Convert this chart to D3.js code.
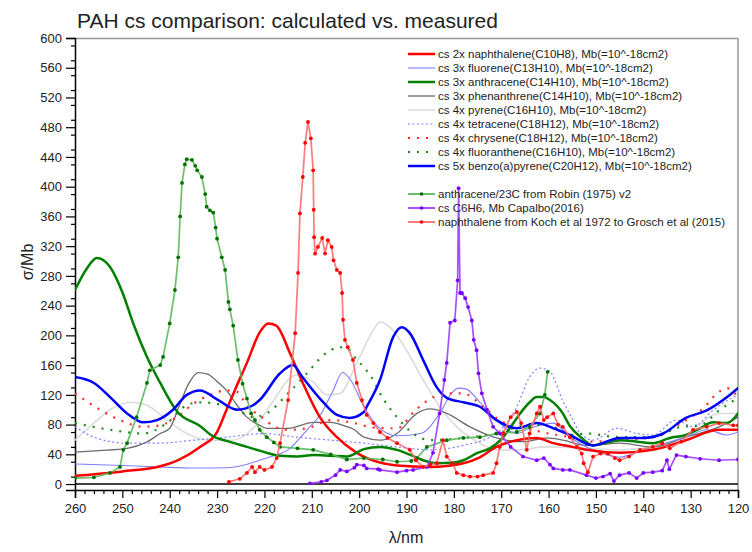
<!DOCTYPE html>
<html>
<head>
<meta charset="utf-8">
<script src="https://cdn.jsdelivr.net/npm/d3@7"></script>
<style>
  html, body { margin: 0; padding: 0; background: #fff; }
  svg { display: block; font-family: "Liberation Sans", Arial, sans-serif; }
</style>
</head>
<body>
<svg id="chart" width="752" height="552"></svg>
<script>
// ---------------- DATA ----------------
const xTicks = [260, 250, 240, 230, 220, 210, 200, 190, 180, 170, 160, 150, 140, 130, 120];
const yTicks = [0, 40, 80, 120, 160, 200, 240, 280, 320, 360, 400, 440, 480, 520, 560, 600];

const naphCalcWl = [260, 250, 242, 238, 233.6, 230, 228, 226, 223.7, 221, 219.2, 217.5, 214.6, 211.9, 208.3, 204.7, 200.5, 196.2, 192, 185, 178, 174.5, 171, 166.7, 162.5, 159, 155, 152, 145, 138, 131, 124, 120];
const naphCalcCs = [11, 17, 24, 33, 50, 70, 100, 130, 163, 204, 216, 213, 176, 136, 90, 63, 42, 30, 25, 23, 28, 36, 50, 59, 62, 55, 50, 46, 42, 46, 59, 73, 73];

const fluoreneWl = [260, 250, 242, 235, 228, 224, 221, 218, 215, 211, 208, 205.5, 203.5, 202, 199, 196, 192, 187, 183, 180.5, 179, 177.5, 174.5, 171, 166.7, 164, 161, 159, 155.5, 152, 148, 145, 143, 138, 131, 126.6, 122.3, 120];
const fluoreneCs = [27, 25, 23, 21.5, 22, 26, 32, 38, 46, 73, 95, 126, 150, 142, 104, 77, 65, 68, 95, 122, 129, 128, 110, 86, 68, 75, 80, 82, 63, 50, 40, 36, 39, 50, 63, 73, 66, 70];

const anthCalcWl = [260, 257.5, 255.4, 252.6, 250, 247.7, 244.8, 242, 238.5, 233.6, 230.8, 228, 223.7, 221, 216.7, 213, 209.7, 206, 202.6, 199, 195.6, 192, 188, 186.5, 183.6, 180, 178, 175, 172.4, 170, 168, 166, 164, 162.5, 161, 159.7, 157, 155.5, 153, 150.6, 148, 145, 141.4, 138, 134.4, 131, 128, 125.3, 122.3, 120];
const anthCalcCs = [261, 290, 304, 292, 258, 216, 171, 136, 98, 78, 64, 58, 50, 45, 38, 37, 39, 38, 37, 47, 50, 46, 36, 32, 28, 29, 32, 42, 48, 60, 77, 95, 110, 117, 117, 113, 95, 78, 62, 52, 55, 59, 57, 55, 62, 66, 75, 83, 82, 95];

const phenWl = [260, 255, 249, 245, 242, 240, 238, 236, 234, 232, 230, 228, 226, 223.7, 221, 219.5, 215, 209.7, 206, 203, 201, 199, 195.6, 192, 187.8, 185, 181.5, 176.6, 171, 165.4, 160.3, 157, 152, 145, 138, 131, 124, 120];
const phenCs = [43, 45, 48, 56, 68, 75, 105, 135, 150, 148, 138, 126, 108, 90, 79, 75, 75, 83, 83, 78, 73, 63, 59, 68, 95, 101, 95, 77, 62, 57, 62, 59, 52, 55, 50, 63, 77, 90];

const pyreneWl = [260, 256, 252.6, 248, 244.8, 240.6, 236.4, 231.5, 226.6, 222.4, 218, 215, 213, 209.7, 206.8, 204, 200.5, 197, 195.6, 193.5, 190, 186.5, 183, 179.4, 174.5, 171, 166.7, 160.3, 152, 145, 138, 131, 124, 120];
const pyreneCs = [59, 82, 100, 110, 106, 86, 68, 59, 59, 75, 113, 140, 147, 137, 120, 122, 163, 207, 218, 211, 180, 140, 104, 77, 55, 46, 46, 50, 48, 46, 50, 66, 95, 95];

const tetraWl = [260, 256, 249, 242, 235, 228, 220, 213, 206, 199, 192, 185, 178, 171, 166.7, 164, 161.8, 159.7, 157, 155, 153.5, 150.6, 145.6, 141.4, 138, 133, 129.5, 125.3, 121, 120];
const tetraCs = [77, 63, 55, 55, 59, 63, 68, 63, 59, 55, 50, 46, 52, 68, 104, 144, 156, 151, 112, 88, 70, 59, 75, 68, 66, 86, 77, 99, 117, 120];

const chryWl = [260, 254.7, 250.5, 245.6, 242, 238.5, 235, 231.5, 228, 225.8, 223.7, 221, 218, 215, 211, 206, 201, 197, 192, 188, 184, 181.5, 178, 173.8, 169.6, 166, 160, 155.5, 152, 145, 138, 132, 127, 124.4, 122.3, 120];
const chryCs = [122, 100, 86, 77, 79, 90, 108, 120, 126, 124, 105, 92, 78, 73, 75, 86, 82, 76, 75, 100, 118, 122, 122, 104, 83, 77, 68, 63, 57, 59, 63, 82, 104, 122, 129, 117];

const fluoranWl = [260, 252.6, 245.6, 240.6, 236.4, 233.6, 229.4, 225.8, 222.4, 219.5, 215, 211, 207.6, 204, 202, 200.5, 199, 197, 195.6, 192, 188.6, 185, 178, 171, 164, 159, 155.5, 152, 145, 138, 132, 128, 124, 120];
const fluoranCs = [82, 73, 68, 82, 106, 110, 107, 100, 90, 95, 122, 149, 173, 184, 180, 167, 157, 140, 122, 90, 68, 59, 62, 68, 80, 77, 66, 68, 63, 63, 77, 79, 99, 116];

const bapWl = [260, 256, 252.6, 249, 245.6, 242.7, 239.3, 236.4, 233.6, 230, 225.8, 222.4, 221, 216.7, 214, 212, 208, 204.7, 202, 199, 198.4, 195.6, 192.8, 191, 189.3, 186.5, 183.6, 181.5, 178, 174.5, 171, 166.7, 162.5, 159, 155.5, 150.6, 145, 140, 135.8, 131, 126.6, 122.3, 120];
const bapCs = [144, 136, 117, 95, 83, 86, 100, 120, 126, 114, 100, 106, 113, 149, 160, 144, 113, 93, 89, 97, 104, 140, 198, 211, 203, 167, 130, 116, 110, 104, 86, 75, 82, 75, 66, 52, 62, 62, 68, 89, 99, 117, 129];

const robinWl = [260, 256, 252.6, 250.5, 249.8, 249, 247, 244.8, 244.2, 242, 241.4, 240, 238.9, 238.2, 237.8, 237.4, 236.8, 236.4, 235.3, 234.6, 234.2, 233.2, 232.5, 232.2, 231.5, 230.8, 230.3, 230, 229, 228.3, 227.6, 227.3, 226.6, 225.6, 224.6, 223.7, 222.8, 222, 221, 219.5, 218, 216.7, 213, 209.7, 206, 202.6, 199, 195, 192, 189, 187.8, 185.7, 181.5, 178, 174.5, 171, 166.7, 164, 161.8, 160.8, 160.2];
const robinCs = [8, 9, 15, 23, 46, 55, 90, 136, 153, 160, 171, 216, 261, 305, 360, 405, 430, 437, 436, 428, 422, 413, 390, 373, 368, 365, 345, 330, 305, 288, 245, 235, 213, 167, 135, 115, 95, 86, 73, 63, 56, 50, 48, 46, 40, 33, 35, 33, 30, 31, 35, 50, 59, 62, 63, 68, 70, 77, 95, 120, 151];

const c6h6Wl = [210.4, 208, 206.8, 205, 204, 202.6, 201, 200.5, 199, 198.4, 196, 195.6, 192, 190, 188.6, 185.7, 184.4, 183, 182, 181.5, 180.8, 179.8, 179.2, 179, 178.7, 178.3, 177.6, 177, 176.2, 175.8, 175.2, 174.8, 174.1, 173, 171.7, 170.3, 168, 165.4, 162.5, 161, 159.7, 159, 157, 155.5, 152, 150, 148.5, 147, 146.2, 145, 143, 141.4, 140, 138, 136, 135, 134.5, 133, 131, 128, 124, 120];
const c6h6Cs = [1, 3, 5, 12, 19, 17, 22, 26, 25, 21, 20, 19, 16, 18, 19, 23, 42, 95, 140, 163, 217, 220, 274, 398, 257, 257, 250, 238, 220, 194, 180, 149, 122, 100, 77, 68, 50, 37, 32, 35, 26, 21, 19, 19, 12, 8, 10, 14, 4, 12, 15, 8, 15, 16, 18, 32, 20, 39, 37, 34, 32, 33];

const kochWl = [227.5, 225.2, 223.7, 222.6, 222, 221, 220, 218.4, 217.4, 216.7, 215, 213.5, 212.9, 212.5, 211.9, 211.4, 210.8, 210.2, 209.7, 209.6, 209.5, 209.3, 208.7, 207.8, 207.2, 206.6, 205.8, 205.4, 204.7, 204, 203.6, 203.4, 203, 202.4, 201.3, 200.5, 199.4, 198.4, 197, 195.6, 194, 192, 189.3, 188, 186.5, 185, 183.6, 182.3, 181.5, 180.3, 179.4, 178, 176.6, 175, 173.8, 171.7, 171, 170.3, 169.6, 168, 166.7, 165.8, 164.6, 164, 162.5, 161.8, 161, 160.3, 159, 158, 157, 155.5, 154, 153, 152.6, 151.7, 150.6, 149, 147.5, 146, 145, 143, 140.7, 138, 136, 134.4, 132, 129.5, 126.6, 124, 121, 120];
const kochCs = [3, 7, 15, 23, 16, 23, 19, 23, 35, 55, 113, 203, 284, 364, 413, 459, 487, 465, 422, 369, 332, 310, 319, 331, 310, 328, 319, 301, 288, 284, 257, 221, 194, 184, 167, 136, 113, 93, 82, 70, 62, 55, 46, 32, 23, 26, 28, 59, 37, 28, 15, 12, 10, 10, 12, 15, 28, 50, 68, 90, 97, 82, 46, 68, 95, 104, 86, 90, 95, 80, 77, 63, 50, 41, 28, 16, 37, 41, 41, 35, 32, 37, 46, 50, 55, 48, 57, 73, 77, 82, 79, 79];

// ---------------- SETUP ----------------
const svg = d3.select("#chart");
const x = d3.scaleLinear().domain([260, 120]).range([75, 738]);
const y = d3.scaleLinear().domain([-8, 600]).range([490, 38]);

svg.append("defs").append("clipPath").attr("id", "clip")
  .append("rect").attr("x", 75).attr("y", 38).attr("width", 663).attr("height", 452);

// Title
svg.append("text").attr("x", 77).attr("y", 28).attr("font-size", 21).attr("fill", "#222")
  .text("PAH cs comparison: calculated vs. measured");

// Frame (top / right)
svg.append("line").attr("x1", 75).attr("x2", 738).attr("y1", 38.5).attr("y2", 38.5).attr("stroke", "#999").attr("stroke-width", 1.5);
svg.append("line").attr("x1", 738).attr("x2", 738).attr("y1", 38).attr("y2", 490).attr("stroke", "#999").attr("stroke-width", 1.5);

// Y axis
const yAxis = d3.axisLeft(y).tickValues(yTicks).tickSize(9).tickPadding(4).tickFormat(d3.format("d"));
const gy = svg.append("g").attr("transform", "translate(75,0)").call(yAxis);
const yMinor = d3.range(10, 600, 20);
svg.append("g").attr("transform", "translate(75,0)")
  .call(d3.axisLeft(y).tickValues(yMinor).tickSize(4).tickFormat(""))
  .call(g => g.select(".domain").remove());

// X axis
const xAxis = d3.axisBottom(x).tickValues(xTicks).tickSize(8).tickPadding(6).tickFormat(d3.format("d"));
const gx = svg.append("g").attr("transform", "translate(0,490)").call(xAxis);
const xMinor = d3.range(258, 120, -2).filter(v => v % 10 !== 0);
svg.append("g").attr("transform", "translate(0,490)")
  .call(d3.axisBottom(x).tickValues(xMinor).tickSize(4).tickFormat(""))
  .call(g => g.select(".domain").remove());

[gx, gy].forEach(g => {
  g.select(".domain").attr("stroke", "#000").attr("stroke-width", 1.5);
  g.selectAll(".tick text").attr("font-size", 13).attr("fill", "#222").attr("font-family", "Liberation Sans, Arial, sans-serif");
});
svg.selectAll("g .tick line").attr("stroke", "#000").attr("stroke-width", 1.2);

// zero line
svg.append("line").attr("x1", 75).attr("x2", 738).attr("y1", y(0)).attr("y2", y(0)).attr("stroke", "#000").attr("stroke-width", 1.6);

// Axis titles
svg.append("text").attr("transform", `translate(33,262) rotate(-90)`).attr("text-anchor", "middle")
  .attr("font-size", 16).attr("fill", "#222").text("σ/Mb");
svg.append("text").attr("x", 406).attr("y", 543).attr("text-anchor", "middle")
  .attr("font-size", 16).attr("fill", "#222").text("λ/nm");

// ---------------- SERIES ----------------
const plot = svg.append("g").attr("clip-path", "url(#clip)");

function pts(wl, cs) { return wl.map((w, i) => [w, cs[i]]); }
const smooth = d3.line().x(d => x(d[0])).y(d => y(d[1])).curve(d3.curveMonotoneX);
const straight = d3.line().x(d => x(d[0])).y(d => y(d[1]));

const calc = [
  { name: "cs 2x naphthalene(C10H8), Mb(=10^-18cm2)", wl: naphCalcWl, cs: naphCalcCs, color: "#ff0000", w: 2.5, dash: null },
  { name: "cs 3x fluorene(C13H10), Mb(=10^-18cm2)", wl: fluoreneWl, cs: fluoreneCs, color: "#7f7fff", w: 1.1, dash: null },
  { name: "cs 3x anthracene(C14H10), Mb(=10^-18cm2)", wl: anthCalcWl, cs: anthCalcCs, color: "#008000", w: 2.5, dash: null },
  { name: "cs 3x phenanthrene(C14H10), Mb(=10^-18cm2)", wl: phenWl, cs: phenCs, color: "#6b6b6b", w: 1.3, dash: null },
  { name: "cs 4x pyrene(C16H10), Mb(=10^-18cm2)", wl: pyreneWl, cs: pyreneCs, color: "#dcdcdc", w: 1.6, dash: null },
  { name: "cs 4x tetracene(C18H12), Mb(=10^-18cm2)", wl: tetraWl, cs: tetraCs, color: "#8080ff", w: 1.2, dash: "2,2.5" },
  { name: "cs 4x chrysene(C18H12), Mb(=10^-18cm2)", wl: chryWl, cs: chryCs, color: "#ff2a2a", w: 2.2, dash: "2,7" },
  { name: "cs 4x fluoranthene(C16H10), Mb(=10^-18cm2)", wl: fluoranWl, cs: fluoranCs, color: "#1a8c1a", w: 2.2, dash: "2,7" },
  { name: "cs 5x benzo(a)pyrene(C20H12), Mb(=10^-18cm2)", wl: bapWl, cs: bapCs, color: "#0000ff", w: 2.5, dash: null }
];
const meas = [
  { name: "anthracene/23C from Robin (1975) v2", wl: robinWl, cs: robinCs, line: "#5cb85c", dot: "#007000" },
  { name: "cs C6H6, Mb Capalbo(2016)", wl: c6h6Wl, cs: c6h6Cs, line: "#9b3dff", dot: "#7a00ff" },
  { name: "naphthalene from Koch et al 1972 to Grosch et al (2015)", wl: kochWl, cs: kochCs, line: "#ff6b6b", dot: "#ff0000" }
];

const drawOrder = [4, 3, 1, 5, 6, 7, 0, 2, 8];
drawOrder.forEach(i => {
  const s = calc[i];
  plot.append("path").datum(pts(s.wl, s.cs)).attr("d", smooth)
    .attr("fill", "none").attr("stroke", s.color).attr("stroke-width", s.w)
    .attr("stroke-dasharray", s.dash).attr("stroke-linecap", s.dash ? "butt" : "round");
});
meas.forEach(s => {
  const g = plot.append("g");
  g.append("path").datum(pts(s.wl, s.cs)).attr("d", straight)
    .attr("fill", "none").attr("stroke", s.line).attr("stroke-width", 1.7).attr("stroke-opacity", 0.9);
  g.selectAll("circle").data(pts(s.wl, s.cs)).join("circle")
    .attr("cx", d => x(d[0])).attr("cy", d => y(d[1])).attr("r", 1.9).attr("fill", s.dot);
});

// ---------------- LEGEND ----------------
const lg = svg.append("g").attr("font-size", 11.5).attr("fill", "#222");
calc.forEach((s, i) => {
  const yy = 54 + i * 14;
  lg.append("line").attr("x1", 408).attr("x2", 435).attr("y1", yy).attr("y2", yy)
    .attr("stroke", s.color).attr("stroke-width", s.w).attr("stroke-dasharray", s.dash);
  lg.append("text").attr("x", 438).attr("y", yy).attr("dy", "0.35em").text(s.name);
});
meas.forEach((s, i) => {
  const yy = 194 + i * 14;
  lg.append("line").attr("x1", 408).attr("x2", 435).attr("y1", yy).attr("y2", yy)
    .attr("stroke", s.line).attr("stroke-width", 1.8);
  lg.append("circle").attr("cx", 421.5).attr("cy", yy).attr("r", 1.8).attr("fill", s.dot);
  lg.append("text").attr("x", 438).attr("y", yy).attr("dy", "0.35em").text(s.name);
});
</script>
</body>
</html>
